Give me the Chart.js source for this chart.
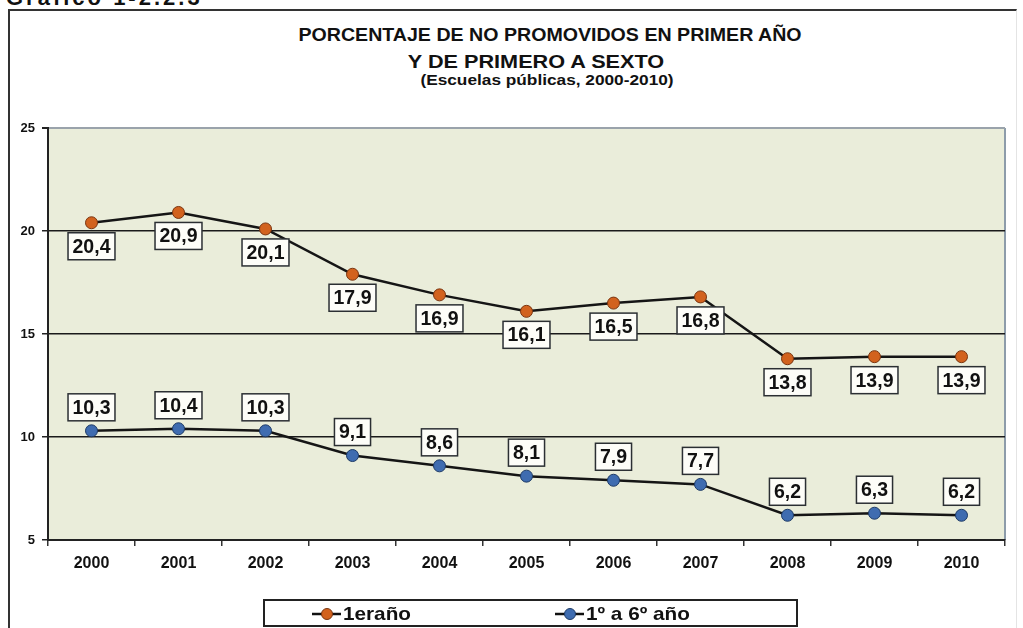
<!DOCTYPE html>
<html lang="es">
<head>
<meta charset="utf-8">
<title>Porcentaje de no promovidos</title>
<script src="https://cdn.jsdelivr.net/npm/chart.js@4/dist/chart.umd.min.js"></script>
<style>
  html, body { margin: 0; padding: 0; background: #fff; overflow: hidden; }
  body { width: 1023px; height: 628px; position: relative; font-family: 'Liberation Sans', Arial, sans-serif; color: #111; }
  .frame { position: absolute; left: 8px; top: 9px; width: 1006px; height: 640px;
           border-left: 2.5px solid #333; border-top: 2.5px solid #333; border-right: 1px solid #e4e4e4; }
  .caption { position: absolute; left: 6px; top: -15px; font-size: 22px; font-weight: bold; letter-spacing: 3px; }
  .t { position: absolute; left: 0; width: 1100px; text-align: center; font-weight: bold; white-space: nowrap; }
  #wrap { position: absolute; left: 0; top: 0; width: 1023px; height: 628px; }
</style>
</head>
<body>
<div class="frame"></div>
<div class="caption">Gráfico 1-2.2.3</div>
<div class="t" style="top:26px;font-size:17.5px;line-height:18px;transform:scaleX(1.12);transform-origin:550px 0;">PORCENTAJE DE NO PROMOVIDOS EN PRIMER AÑO</div>
<div class="t" style="top:52px;font-size:19px;line-height:19px;left:-14px;transform:scaleX(1.14);transform-origin:550px 0;">Y DE PRIMERO A SEXTO</div>
<div class="t" style="top:72px;font-size:15px;line-height:15px;left:-3px;transform:scaleX(1.15);transform-origin:550px 0;">(Escuelas públicas, 2000-2010)</div>
<div id="wrap"><canvas id="chart"></canvas></div>
<script>
// datos
const years = ['2000', '2001', '2002', '2003', '2004', '2005', '2006', '2007', '2008', '2009', '2010'];
const primerAno = [20.4, 20.9, 20.1, 17.9, 16.9, 16.1, 16.5, 16.8, 13.8, 13.9, 13.9];
const primeroASexto = [10.3, 10.4, 10.3, 9.1, 8.6, 8.1, 7.9, 7.7, 6.2, 6.3, 6.2];
const yTicks = [5, 10, 15, 20, 25];
const seriesNames = ['1eraño', '1º a 6º año'];

const FONT = "'Liberation Sans', Arial, sans-serif";
const fmt = v => v.toFixed(1).replace('.', ',');

// fondo del área de trazado
const plotBg = {
    id: 'plotBg',
    beforeDraw(chart) {
        const { ctx, chartArea: a } = chart;
        ctx.save();
        ctx.fillStyle = '#eaedda';
        ctx.fillRect(a.left, a.top, a.right - a.left, a.bottom - a.top);
        ctx.strokeStyle = '#8d9caa';
        ctx.lineWidth = 2;
        ctx.beginPath();
        ctx.moveTo(a.right, a.top);
        ctx.lineTo(a.right, a.bottom);
        ctx.stroke();
        ctx.restore();
    }
};

// etiquetas de valor en cajitas
const valueBoxes = {
    id: 'valueBoxes',
    afterDatasetsDraw(chart) {
        const ctx = chart.ctx;
        ctx.save();
        ctx.font = 'bold 19.5px ' + FONT;
        ctx.textAlign = 'center';
        ctx.textBaseline = 'middle';
        chart.data.datasets.forEach((ds, i) => {
            const meta = chart.getDatasetMeta(i);
            meta.data.forEach((pt, j) => {
                const txt = fmt(ds.data[j]);
                const w = ctx.measureText(txt).width + 9;
                const h = 27;
                const top = i === 0 ? pt.y + 10 : pt.y - 10 - h;
                const left = pt.x - w / 2;
                ctx.fillStyle = '#fdfdf8';
                ctx.fillRect(left, top, w, h);
                ctx.strokeStyle = '#2b2f33';
                ctx.lineWidth = 1.5;
                ctx.strokeRect(left, top, w, h);
                ctx.fillStyle = '#111';
                ctx.fillText(txt, pt.x, top + h / 2 + 1);
            });
        });
        ctx.restore();
    }
};

// leyenda con recuadro
const boxLegend = {
    id: 'boxLegend',
    afterDraw(chart) {
        const ctx = chart.ctx;
        ctx.save();
        ctx.strokeStyle = '#222';
        ctx.lineWidth = 2;
        ctx.strokeRect(264, 600, 533, 26);
        ctx.font = 'bold 18.5px ' + FONT;
        ctx.textBaseline = 'middle';
        const starts = [312, 555];
        chart.data.datasets.forEach((ds, i) => {
            const x = starts[i], y = 614;
            ctx.strokeStyle = '#111';
            ctx.lineWidth = 2.5;
            ctx.beginPath();
            ctx.moveTo(x, y);
            ctx.lineTo(x + 29, y);
            ctx.stroke();
            ctx.beginPath();
            ctx.arc(x + 15, y, 5.5, 0, Math.PI * 2);
            ctx.fillStyle = ds.pointBackgroundColor;
            ctx.fill();
            ctx.lineWidth = 1;
            ctx.strokeStyle = ds.pointBorderColor;
            ctx.stroke();
            ctx.fillStyle = '#111';
            ctx.save();
            ctx.translate(x + 31, y + 1);
            ctx.scale(1.12, 1);
            ctx.fillText(ds.label, 0, 0);
            ctx.restore();
        });
        ctx.restore();
    }
};

new Chart(document.getElementById('chart'), {
    type: 'line',
    data: {
        labels: years,
        datasets: [
            {
                label: seriesNames[0],
                data: primerAno,
                borderColor: '#151515',
                borderWidth: 2.5,
                pointRadius: 6,
                pointHoverRadius: 6,
                pointBackgroundColor: '#d2621e',
                pointBorderColor: '#7a3510',
                pointBorderWidth: 1,
                tension: 0
            },
            {
                label: seriesNames[1],
                data: primeroASexto,
                borderColor: '#151515',
                borderWidth: 2.5,
                pointRadius: 6,
                pointHoverRadius: 6,
                pointBackgroundColor: '#3f6cb0',
                pointBorderColor: '#1d3a66',
                pointBorderWidth: 1,
                tension: 0
            }
        ]
    },
    options: {
        responsive: true,
        maintainAspectRatio: false,
        animation: false,
        layout: { padding: { top: 128, left: 8, right: 18, bottom: 0 } },
        plugins: {
            legend: { display: false },
            title: { display: false },
            tooltip: { enabled: false }
        },
        scales: {
            x: {
                offset: true,
                grid: { offset: true, drawOnChartArea: false, drawTicks: true, tickLength: 6, color: '#333', lineWidth: 1.5 },
                border: { display: true, color: '#222', width: 2 },
                ticks: { color: '#111', padding: 8, font: { family: FONT, size: 16, weight: 'bold' } },
                afterFit: s => { s.height = 88; }
            },
            y: {
                min: 5,
                max: 25,
                afterBuildTicks: s => { s.ticks = yTicks.map(v => ({ value: v })); },
                grid: {
                    color: c => (c.tick && c.tick.value === 25 ? '#9aa3ab' : '#1a1a1a'),
                    lineWidth: c => (c.tick && c.tick.value === 25 ? 2 : 1.5),
                    tickColor: '#222',
                    tickLength: 6
                },
                border: { display: true, color: '#222', width: 2 },
                ticks: { color: '#111', padding: 7, font: { family: FONT, size: 13, weight: 'bold' } },
                afterFit: s => { s.width = 40; }
            }
        }
    },
    plugins: [plotBg, valueBoxes, boxLegend]
});
</script>
</body>
</html>
